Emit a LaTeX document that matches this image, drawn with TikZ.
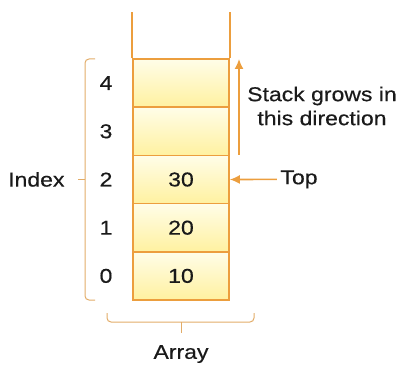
\documentclass[tikz,border=0pt]{standalone}
\usepackage{fontspec}
\setmainfont{Liberation Sans}[FakeStretch=1.15,FakeBold=0.4]
\usepackage{tikz}
\usetikzlibrary{arrows.meta,positioning}

\definecolor{stackline}{RGB}{236,158,62}
\definecolor{bracecol}{RGB}{226,172,104}
\definecolor{celltop}{RGB}{255,253,232}
\definecolor{cellbot}{RGB}{255,241,160}
\definecolor{ink}{RGB}{26,26,26}

\begin{document}
\begin{tikzpicture}[x=1pt,y=1pt,node distance=48.2pt,
  every node/.style={text=ink,font=\fontsize{20}{24}\selectfont}]

\tikzstyle{cell}=[draw=stackline,line width=1.6pt,minimum width=96pt,minimum height=48.2pt,
  top color=celltop,bottom color=cellbot,inner sep=0pt]
\tikzstyle{rail}=[draw=stackline,line width=1.6pt]
\tikzstyle{brace}=[draw=bracecol,line width=1pt,rounded corners=4pt]
\tikzstyle{pointer}=[draw=stackline,line width=1.6pt,-{Latex[length=10pt,width=9pt]}]

\useasboundingbox (0,0) rectangle (401,367);

%cells
\node [cell] (c0) at (181,91.1) {10};
\node [cell] (c1) [above of=c0] {20};
\node [cell] (c2) [above of=c1] {30};
\node [cell] (c3) [above of=c2] {};
\node [cell] (c4) [above of=c3] {};

%open ends of the array
\coordinate (ltop) at (c4.north west |- 0,355);
\coordinate (rtop) at (c4.north east |- 0,355);
\draw [rail] (c4.north west) -- (ltop);
\draw [rail] (c4.north east) -- (rtop);

%index numbers
\node (i0) [left of=c0,node distance=75pt] {0};
\node (i1) [left of=c1,node distance=75pt] {1};
\node (i2) [left of=c2,node distance=75pt] {2};
\node (i3) [left of=c3,node distance=75pt] {3};
\node (i4) [left of=c4,node distance=75pt] {4};

%index brace
\draw [brace] (95,308) -- (85,308) -- (85,67) -- (95,67);
\coordinate (itip) at (78,187.6);
\draw [draw=bracecol,line width=1pt] (85,187.6) -- (itip);
\node (index) [anchor=east] at (68,187.6) {Index};

%growth direction
\coordinate (gbase) at (239,212);
\coordinate (gtip) at (239,308);
\draw [pointer] (gbase) -- (gtip);
\node (grows) [align=center] at (322,261) {Stack grows in\\this direction};

%top pointer
\node (top) at (299,187.6) {Top};
\draw [pointer] (top.west) -- (c2.east);

%array brace
\draw [brace] (107,54) -- (107,45) -- (254,45) -- (254,54);
\coordinate (atip) at (181,34);
\draw [draw=bracecol,line width=1pt] (181,45) -- (atip);
\node (array) at (181,13) {Array};

\end{tikzpicture}
\end{document}
